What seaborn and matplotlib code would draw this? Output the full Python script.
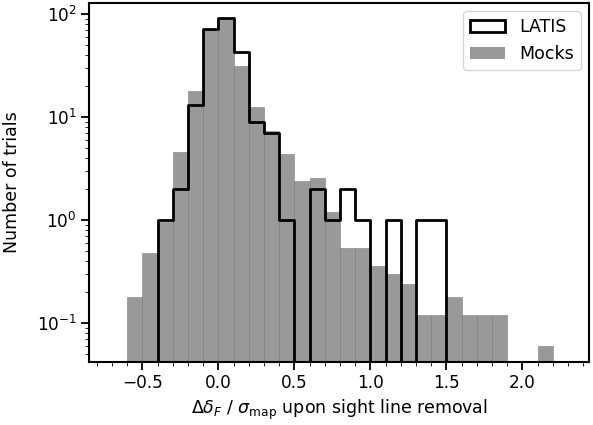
import numpy as np
import pandas as pd
import matplotlib
matplotlib.use("Agg")
import matplotlib.pyplot as plt
from matplotlib.patches import Patch
from matplotlib.ticker import MultipleLocator
import seaborn as sns

# bin edges of the histograms (width 0.1)
bordas = np.round(np.arange(-0.6, 2.2001, 0.1), 2)
centros = np.round((bordas[:-1] + bordas[1:]) / 2, 3)

# normalised mock counts per bin
mocks = [0.18, 0.48, 0.96, 4.56, 18.1, 72.0, 91.0, 31.5, 12.5, 7.4,
         4.4, 2.42, 2.58, 1.2, 0.54, 0.54, 0.36, 0.30, 0.24, 0.12,
         0.12, 0.18, 0.12, 0.12, 0.12, 0.0, 0.0, 0.06]
# LATIS counts per bin
latis = [0, 0, 1, 2, 13, 72, 92, 43, 9, 7,
         1, 0, 2, 1, 2, 1, 0, 1, 0, 1,
         1, 0, 0, 0, 0, 0, 0, 0]

df = pd.DataFrame({"x": centros, "mocks": mocks, "latis": latis})

plt.rcParams['font.family'] = 'DejaVu Sans'
plt.rcParams['font.size'] = 12.5
plt.rcParams['xtick.labelsize'] = 12.2
plt.rcParams['ytick.labelsize'] = 12.2
plt.rcParams['axes.linewidth'] = 1.5
plt.rcParams['xtick.major.width'] = 1.3
plt.rcParams['ytick.major.width'] = 1.3
plt.rcParams['xtick.major.size'] = 5.5
plt.rcParams['ytick.major.size'] = 5.5
plt.rcParams['xtick.minor.size'] = 3
plt.rcParams['ytick.minor.size'] = 3

fig = plt.figure(figsize=(5.93, 4.25), dpi=100)
ax = fig.add_axes([0.1506, 0.149, 0.843, 0.845])

sns.histplot(data=df, x="x", weights="mocks", binwidth=0.1, binrange=(-0.6, 2.2),
             element="bars", color="gray", alpha=0.8, edgecolor="gray",
             linewidth=0.4, ax=ax)
sns.histplot(data=df, x="x", weights="latis", binwidth=0.1, binrange=(-0.6, 2.2),
             element="step", fill=False, color="black", linewidth=2.0, ax=ax)

ax.set_yscale("log")
ax.set_ylim(0.042, 130)
ax.set_xlim(-0.85, 2.44)
ax.xaxis.set_minor_locator(MultipleLocator(0.1))

ax.set_xlabel(r"$\Delta\delta_F$ / $\sigma_{\rm map}$ upon sight line removal")
ax.set_ylabel("Number of trials", labelpad=11)

handles = [Patch(facecolor="white", edgecolor="black", linewidth=2.0),
           Patch(facecolor="gray", alpha=0.8, edgecolor="none")]
ax.legend(handles, ["LATIS", "Mocks"], loc="upper right")

fig.savefig("out.png", dpi=100)
